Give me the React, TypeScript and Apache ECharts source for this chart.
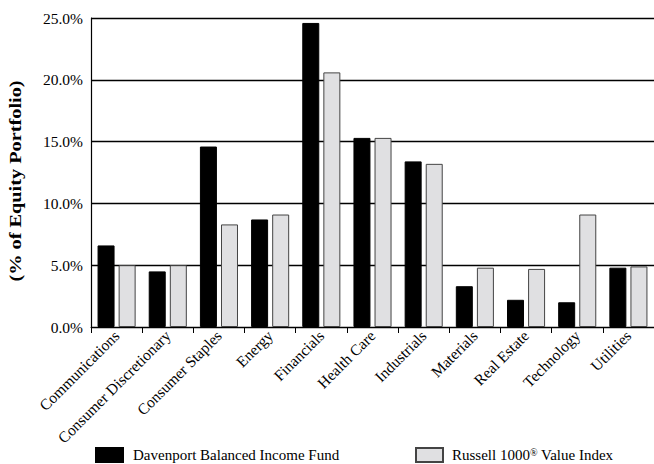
import React, { useEffect, useRef } from "react";
import * as echarts from "echarts";

const categories = [
  "Communications",
  "Consumer Discretionary",
  "Consumer Staples",
  "Energy",
  "Financials",
  "Health Care",
  "Industrials",
  "Materials",
  "Real Estate",
  "Technology",
  "Utilities",
];
const fundValues = [6.6, 4.5, 14.6, 8.7, 24.6, 15.3, 13.4, 3.3, 2.2, 2.0, 4.8];
const indexValues = [5.0, 5.0, 8.3, 9.1, 20.6, 15.3, 13.2, 4.8, 4.7, 9.1, 4.9];
const fundName = "Davenport Balanced Income Fund";
const indexName = "Russell 1000® Value Index";
const yAxisTitle = "(% of Equity Portfolio)";

const FONT = '"Liberation Serif", "Times New Roman", serif';

export default function App() {
  const ref = useRef<HTMLDivElement>(null);
  useEffect(() => {
    if (!ref.current) return;
    const chart = echarts.init(ref.current, undefined, { renderer: "svg" });
    chart.setOption({
      animation: false,
      textStyle: { fontFamily: FONT, color: "#000" },
      grid: { left: 91, top: 18, width: 568, height: 309, containLabel: false },
      xAxis: {
        type: "category",
        data: categories,
        axisLine: { lineStyle: { color: "#000", width: 1 } },
        axisTick: { show: true, length: 6, lineStyle: { color: "#000" } },
        axisLabel: {
          rotate: 45,
          interval: 0,
          margin: 6,
          fontSize: 15.5,
          fontFamily: FONT,
          color: "#000",
        },
      },
      yAxis: {
        type: "value",
        min: 0,
        max: 25,
        interval: 5,
        axisLine: { show: true, lineStyle: { color: "#000", width: 1.2 } },
        axisTick: { show: false },
        splitLine: { lineStyle: { color: "#000", width: 1.3 } },
        axisLabel: {
          margin: 8,
          fontSize: 15.5,
          fontFamily: FONT,
          color: "#000",
          formatter: (v: number) => v.toFixed(1) + "%",
        },
      },
      legend: [
        {
          data: [{ name: fundName, icon: "rect" }],
          left: 95,
          top: 447,
          padding: 0,
          itemWidth: 27,
          itemHeight: 14,
          textStyle: { fontSize: 15, fontFamily: FONT, color: "#000", padding: [0, 0, 0, 5] },
        },
        {
          data: [{ name: indexName, icon: "rect" }],
          left: 415,
          top: 447,
          padding: 0,
          itemWidth: 27,
          itemHeight: 14,
          formatter: () => "Russell 1000{sup|®} Value Index",
          textStyle: {
            fontSize: 15,
            fontFamily: FONT,
            color: "#000",
            padding: [0, 0, 0, 4],
            rich: {
              sup: { fontSize: 10, fontFamily: FONT, color: "#000", verticalAlign: "top", padding: [0, 0, 6, 0] },
            },
          },
        },
      ],
      graphic: [
        {
          type: "text",
          x: 16,
          y: 181,
          rotation: Math.PI / 2,
          scaleX: 1.27,
          style: {
            text: yAxisTitle,
            align: "center",
            verticalAlign: "middle",
            font: `bold 16px ${FONT}`,
            fill: "#000",
          },
        },
      ],
      series: [
        {
          name: fundName,
          type: "bar",
          data: fundValues,
          barWidth: 17,
          barGap: "24%",
          itemStyle: { color: "#000", borderColor: "#000", borderWidth: 1 },
        },
        {
          name: indexName,
          type: "bar",
          data: indexValues,
          barWidth: 17,
          itemStyle: { color: "#e0e0e2", borderColor: "#444", borderWidth: 1 },
        },
      ],
    });
    return () => chart.dispose();
  }, []);
  return (
    <div
      ref={ref}
      style={{ position: "fixed", left: 0, top: 0, width: 654, height: 464, background: "#fff" }}
    />
  );
}
